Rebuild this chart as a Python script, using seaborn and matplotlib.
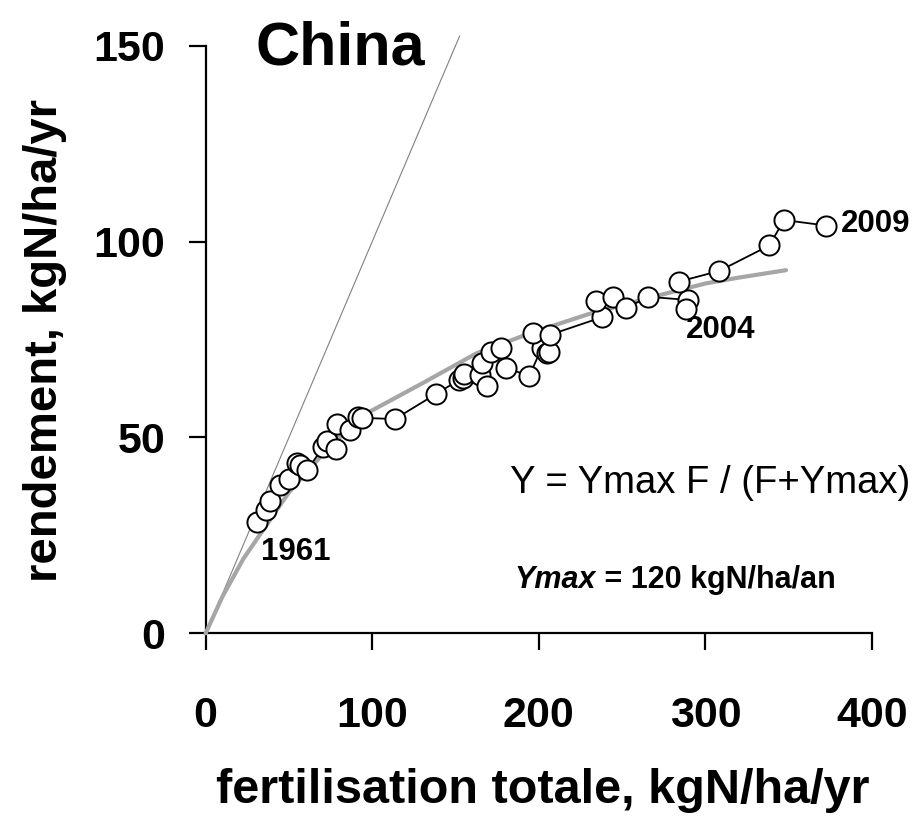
import matplotlib
matplotlib.use("Agg")
import matplotlib.pyplot as plt
import seaborn as sns
import pandas as pd

# ---- data ----
fert = [31.0, 36.0, 38.6, 44.6, 50.2, 54.6, 56.6, 61.0, 70.6, 72.6, 78.2, 79.0,
        86.6, 91.3, 94.0, 113.6, 138.3, 152.2, 154.3, 155.1, 164.7, 169.1, 165.7,
        171.1, 177.5, 180.1, 194.3, 201.7, 204.7, 206.3, 196.7, 206.7, 237.7, 234.3,
        237.7, 244.7, 252.3, 265.7, 289.7, 288.3, 284.3, 308.3, 338.4, 347.2, 372.4]
yield_ = [28.5, 31.5, 33.9, 37.9, 39.3, 43.6, 43.0, 41.7, 47.6, 49.1, 47.0, 53.4,
          51.9, 55.3, 55.0, 54.7, 61.1, 64.7, 65.3, 66.2, 65.9, 63.1, 68.9,
          71.9, 72.9, 67.8, 65.7, 72.8, 71.5, 71.9, 76.6, 76.2, 77.9, 84.9,
          83.4, 85.9, 83.0, 85.9, 85.1, 82.7, 89.8, 92.5, 99.0, 105.5, 104.1]

fit_f = [0, 10, 22.6, 50, 75, 98.6, 128.7, 162.7, 194.7, 230, 268.7, 300, 320, 348.4]
fit_y = [0, 9.3, 19.0, 36.0, 48.0, 56.6, 63.5, 71.5, 76.6, 81.5, 85.9, 89.3, 90.8, 92.7]

diag_x = [0, 152.5]
diag_y = [0, 152.5]

xticks = [0, 100, 200, 300, 400]
yticks = [0, 50, 100, 150]

sns.set_style("white")
plt.rcParams['font.family'] = ['Liberation Sans', 'DejaVu Sans']
plt.rcParams['text.color'] = 'black'
plt.rcParams['axes.labelcolor'] = 'black'
plt.rcParams['xtick.color'] = 'black'
plt.rcParams['ytick.color'] = 'black'

fig = plt.figure(figsize=(9.14, 8.19), dpi=100)
ax = fig.add_axes([0.225, 0.2267, 0.729, 0.7175])

df = pd.DataFrame({"F": fert, "Y": yield_})
dfit = pd.DataFrame({"F": fit_f, "Y": fit_y})
ddiag = pd.DataFrame({"F": diag_x, "Y": diag_y})

sns.lineplot(data=ddiag, x="F", y="Y", color="#808080", linewidth=0.8, ax=ax,
             clip_on=False, zorder=2)
sns.lineplot(data=dfit, x="F", y="Y", color="#a6a6a6", linewidth=3.0, ax=ax,
             zorder=3, clip_on=False)
sns.lineplot(data=df, x="F", y="Y", sort=False, color="black", linewidth=1.3,
             marker="o", markersize=14.5, markerfacecolor="white",
             markeredgecolor="black", markeredgewidth=1.4, ax=ax, zorder=4,
             clip_on=False)

ax.set_xlim(0, 400)
ax.set_ylim(0, 150)
ax.set_xticks(xticks)
ax.set_yticks(yticks)
ax.set_xticklabels([str(t) for t in xticks], fontsize=31, fontweight="bold")
ax.set_yticklabels([str(t) for t in yticks], fontsize=31, fontweight="bold")

for s in ["top", "right"]:
    ax.spines[s].set_visible(False)
for s in ["left", "bottom"]:
    ax.spines[s].set_color("black")
    ax.spines[s].set_linewidth(1.6)

ax.tick_params(axis="x", direction="out", length=12, width=1.6, color="black",
               labelcolor="black", pad=33, bottom=True)
ax.tick_params(axis="y", direction="out", length=12, width=1.6, color="black",
               labelcolor="black", pad=17, left=True)

ax.set_xlabel("fertilisation totale, kgN/ha/yr", fontsize=35, fontweight="bold",
              color="black")
ax.set_ylabel("rendement, kgN/ha/yr", fontsize=34, fontweight="bold",
              color="black")
ax.xaxis.label.set_va("center")
ax.yaxis.label.set_va("center")
ax.xaxis.set_label_coords(0.506, -0.267)
ax.yaxis.set_label_coords(-0.241, 0.499)

ax.text(30.2, 145.1, "China", fontsize=44, fontweight="bold", ha="left",
        va="baseline", clip_on=False, color="black")
ax.text(302.9, 38.4, "Y = Ymax F / (F+Ymax)", fontsize=27.5, ha="center",
        va="center", color="black")
ax.text(234.3, 13.6, "Ymax", fontsize=22, fontweight="bold", fontstyle="italic",
        ha="right", va="center", color="black")
ax.text(234.3, 13.6, " = 120 kgN/ha/an", fontsize=22, fontweight="bold",
        ha="left", va="center", color="black")
ax.text(54.2, 20.8, "1961", fontsize=22.5, fontweight="bold", ha="center",
        va="center", color="black")
ax.text(309.4, 77.4, "2004", fontsize=22.5, fontweight="bold", ha="center",
        va="center", color="black")
ax.text(402.3, 104.5, "2009", fontsize=22.5, fontweight="bold", ha="center",
        va="center", clip_on=False, color="black")

fig.savefig("out.png", dpi=100, facecolor="white")
